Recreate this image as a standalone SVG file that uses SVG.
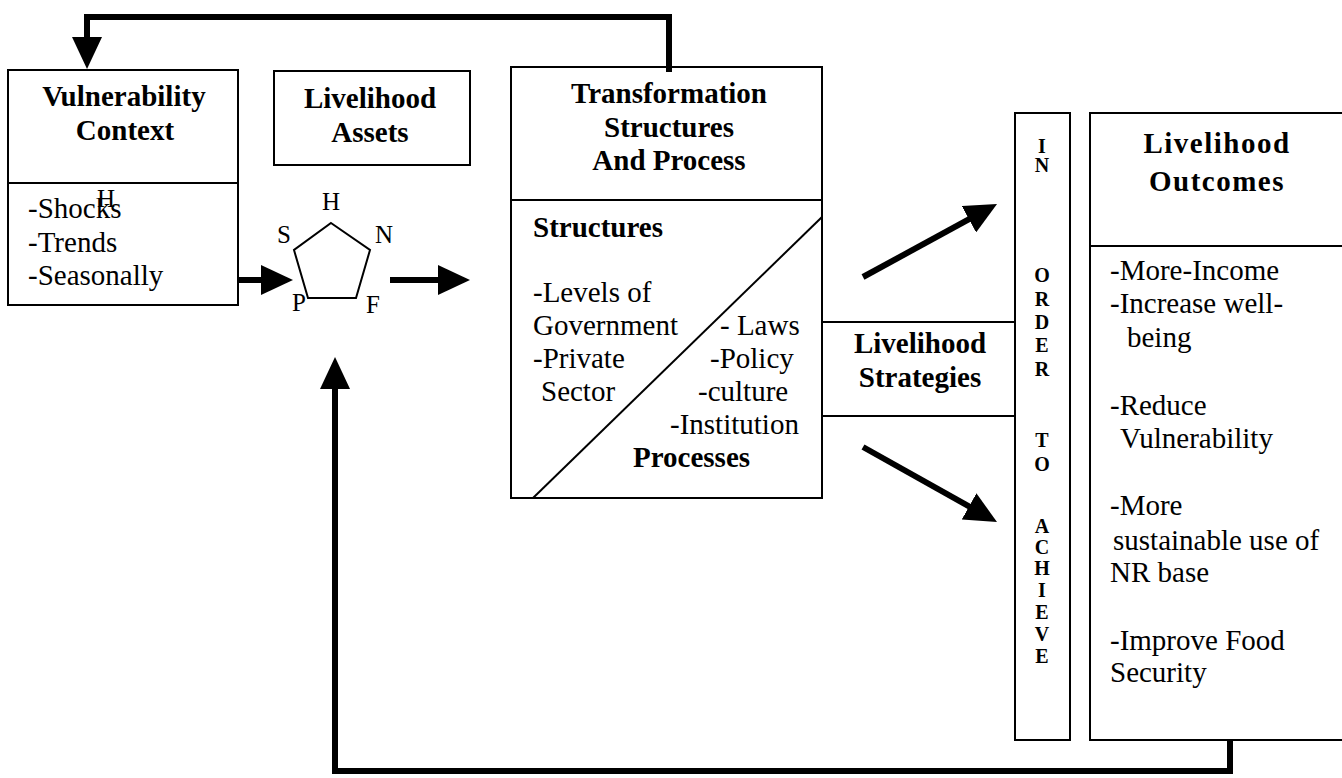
<svg xmlns="http://www.w3.org/2000/svg" width="1342" height="778" viewBox="0 0 1342 778">
<style>
.box{fill:none;stroke:#000;stroke-width:2}
.t{font-family:"Liberation Serif","Times New Roman",serif;font-size:29px;fill:#000}
.b{font-weight:bold}
.c{text-anchor:middle}
.s{font-size:25px}
.v{font-family:"Liberation Serif","Times New Roman",serif;font-size:20px;font-weight:bold;text-anchor:middle;fill:#000}
.con{fill:none;stroke:#000;stroke-width:6}
</style>
<defs>
<marker id="ah" markerUnits="userSpaceOnUse" viewBox="0 0 32 30" markerWidth="32" markerHeight="30" refX="6" refY="15" orient="auto">
<path d="M0,0 L32,15 L0,30 Z" fill="#000"/>
</marker>
</defs>
<rect width="1342" height="778" fill="#fff"/>

<g id="vulnerability">
<rect class="box" x="8" y="70" width="230" height="235"/>
<line class="box" x1="8" y1="183" x2="238" y2="183"/>
<text class="t b c" x="124" y="106">Vulnerability</text>
<text class="t b c" x="125" y="140">Context</text>
<text class="t" x="28" y="218">-Shocks</text>
<text class="t" x="97" y="207" style="font-size:25px">H</text>
<text class="t" x="28" y="252">-Trends</text>
<text class="t" x="28" y="285">-Seasonally</text>
</g>

<g id="assets">
<rect class="box" x="274" y="71" width="196" height="94"/>
<text class="t b c" x="370" y="108">Livelihood</text>
<text class="t b c" x="370" y="142">Assets</text>
</g>

<g id="pentagon">
<polygon class="box" points="331,223 370,250 356,298 308,298 294,250"/>
<text class="t s c" x="331" y="210">H</text>
<text class="t s c" x="284" y="243">S</text>
<text class="t s c" x="384" y="243">N</text>
<text class="t s c" x="299" y="311">P</text>
<text class="t s c" x="373" y="313">F</text>
</g>

<g id="transformation">
<rect class="box" x="511" y="67" width="311" height="431"/>
<line class="box" x1="511" y1="200" x2="822" y2="200"/>
<line class="box" x1="533" y1="498" x2="822" y2="217"/>
<text class="t b c" x="669" y="103">Transformation</text>
<text class="t b c" x="669" y="137">Structures</text>
<text class="t b c" x="669" y="170">And Process</text>
<text class="t b" x="533" y="237">Structures</text>
<text class="t" x="533" y="302">-Levels of</text>
<text class="t" x="533" y="335">Government</text>
<text class="t" x="533" y="368">-Private</text>
<text class="t" x="541" y="401">Sector</text>
<text class="t" x="720" y="335">- Laws</text>
<text class="t" x="710" y="368">-Policy</text>
<text class="t" x="698" y="401">-culture</text>
<text class="t" x="670" y="434">-Institution</text>
<text class="t b" x="633" y="467">Processes</text>
</g>

<g id="strategies">
<rect class="box" x="822" y="322" width="193" height="94"/>
<text class="t b c" x="920" y="353">Livelihood</text>
<text class="t b c" x="920" y="387">Strategies</text>
</g>

<g id="inorder">
<rect class="box" x="1015" y="113" width="55" height="627"/>
<text class="v" x="1042" y="153">I</text>
<text class="v" x="1042" y="172">N</text>
<text class="v" x="1042" y="282">O</text>
<text class="v" x="1042" y="306">R</text>
<text class="v" x="1042" y="329">D</text>
<text class="v" x="1042" y="352">E</text>
<text class="v" x="1042" y="376">R</text>
<text class="v" x="1042" y="447">T</text>
<text class="v" x="1042" y="471">O</text>
<text class="v" x="1042" y="533">A</text>
<text class="v" x="1042" y="554">C</text>
<text class="v" x="1042" y="575">H</text>
<text class="v" x="1042" y="597">I</text>
<text class="v" x="1042" y="619">E</text>
<text class="v" x="1042" y="641">V</text>
<text class="v" x="1042" y="663">E</text>
</g>

<g id="outcomes">
<rect class="box" x="1090" y="113" width="262" height="627"/>
<line class="box" x1="1090" y1="246" x2="1342" y2="246"/>
<text class="t b c" x="1217" y="153" style="letter-spacing:1.5px">Livelihood</text>
<text class="t b c" x="1217" y="191" style="letter-spacing:1.5px">Outcomes</text>
<text class="t" x="1110" y="280">-More-Income</text>
<text class="t" x="1110" y="313">-Increase well-</text>
<text class="t" x="1127" y="347">being</text>
<text class="t" x="1110" y="415">-Reduce</text>
<text class="t" x="1120" y="448">Vulnerability</text>
<text class="t" x="1110" y="515">-More</text>
<text class="t" x="1113" y="550">sustainable use of</text>
<text class="t" x="1110" y="582">NR base</text>
<text class="t" x="1110" y="650">-Improve Food</text>
<text class="t" x="1110" y="682">Security</text>
</g>

<g id="connectors">
<path class="con" d="M669,72 V17 H87 V43" marker-end="url(#ah)"/>
<path class="con" d="M1230,740 V771 H335 V383" marker-end="url(#ah)"/>
<path class="con" d="M238,280 H267" marker-end="url(#ah)"/>
<path class="con" d="M390,280 H444" marker-end="url(#ah)"/>
<path class="con" d="M863,277 L974.2,216.4" marker-end="url(#ah)"/>
<path class="con" d="M863,447 L974.3,509.3" marker-end="url(#ah)"/>
</g>
</svg>
